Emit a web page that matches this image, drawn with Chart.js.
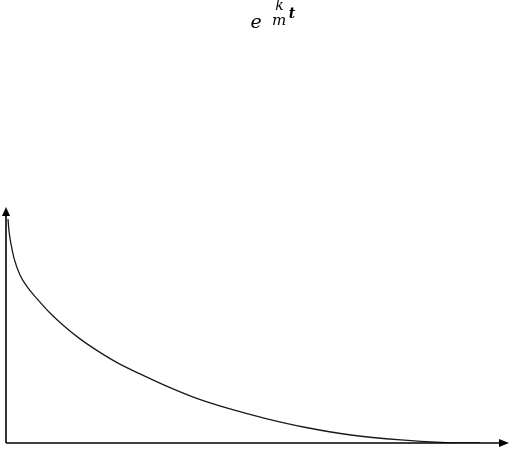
<!DOCTYPE html>
<html>
<head>
<meta charset="utf-8">
<script src="https://cdn.jsdelivr.net/npm/chart.js@4/dist/chart.umd.min.js"></script>
<style>
  html, body { margin: 0; padding: 0; background: #fff; }
  #wrap { width: 511px; height: 449px; }
</style>
</head>
<body>
<div id="wrap"><canvas id="decay" width="511" height="449"></canvas></div>
<script>
// curve (x: 0..100 along the axis, y: 0..100 up the axis)
const tValues = [0.4, 0.6, 1.0, 1.6, 2.8, 4.4, 6.4, 8.8, 11.6, 14.8, 18.4, 22.4, 26.8, 32.0, 38.0, 44.8, 52.0, 60.0, 69.0, 79.0, 87.0, 94.8];
const yValues = [95.3, 90.2, 84.7, 78.7, 71.5, 66.0, 60.9, 55.3, 49.8, 44.3, 39.1, 34.0, 29.4, 24.3, 19.1, 14.5, 10.4, 6.6, 3.4, 1.3, 0.3, 0];

// formula label e^(k/m t), pieces as they sit in the picture
const labelBase = 'e';
const labelNum = 'k';
const labelDen = 'm';
const labelVar = 't';

const points = tValues.map((t, i) => ({ x: t, y: yValues[i] }));

// axes with arrow heads + the formula at the top
const axesPlugin = {
    id: 'axesArrows',
    afterDraw(chart) {
        const ctx = chart.ctx;
        const xs = chart.scales.x;
        const ys = chart.scales.y;
        const x0 = xs.getPixelForValue(0);
        const y0 = ys.getPixelForValue(0);
        const yTop = ys.getPixelForValue(100);
        const xEnd = xs.getPixelForValue(100);

        ctx.save();
        ctx.strokeStyle = '#000';
        ctx.fillStyle = '#000';
        ctx.lineWidth = 1.6;

        // y axis
        ctx.beginPath();
        ctx.moveTo(x0, y0);
        ctx.lineTo(x0, yTop + 7);
        ctx.stroke();
        ctx.beginPath();
        ctx.moveTo(x0, yTop - 1);
        ctx.lineTo(x0 - 4, yTop + 8);
        ctx.lineTo(x0 + 4, yTop + 8);
        ctx.closePath();
        ctx.fill();

        // x axis
        ctx.beginPath();
        ctx.moveTo(x0, y0);
        ctx.lineTo(xEnd - 6, y0);
        ctx.stroke();
        ctx.beginPath();
        ctx.moveTo(xEnd + 3, y0);
        ctx.lineTo(xEnd - 7, y0 - 4);
        ctx.lineTo(xEnd - 7, y0 + 4);
        ctx.closePath();
        ctx.fill();

        // formula
        ctx.textBaseline = 'alphabetic';
        ctx.textAlign = 'center';
        ctx.font = 'italic 19px "DejaVu Serif", "Liberation Serif", serif';
        ctx.fillText(labelBase, 256, 28);
        ctx.font = 'italic 14px "DejaVu Serif", "Liberation Serif", serif';
        ctx.fillText(labelNum, 279.5, 10);
        ctx.font = 'italic 15px "DejaVu Serif", "Liberation Serif", serif';
        ctx.fillText(labelDen, 279, 25);
        ctx.font = 'italic bold 14px "DejaVu Serif", "Liberation Serif", serif';
        ctx.fillText(labelVar, 292, 18);
        ctx.restore();
    }
};

new Chart(document.getElementById('decay'), {
    type: 'scatter',
    data: {
        datasets: [{
            data: points,
            showLine: true,
            borderColor: '#1a1a1a',
            borderWidth: 1.3,
            pointRadius: 0,
            cubicInterpolationMode: 'monotone',
            fill: false
        }]
    },
    options: {
        responsive: false,
        animation: false,
        layout: { padding: { left: 6, right: 5, top: 208, bottom: 6 } },
        scales: {
            x: { type: 'linear', min: 0, max: 100, display: false },
            y: { type: 'linear', min: 0, max: 100, display: false }
        },
        plugins: {
            legend: { display: false },
            tooltip: { enabled: false },
            title: { display: false }
        }
    },
    plugins: [axesPlugin]
});
</script>
</body>
</html>
